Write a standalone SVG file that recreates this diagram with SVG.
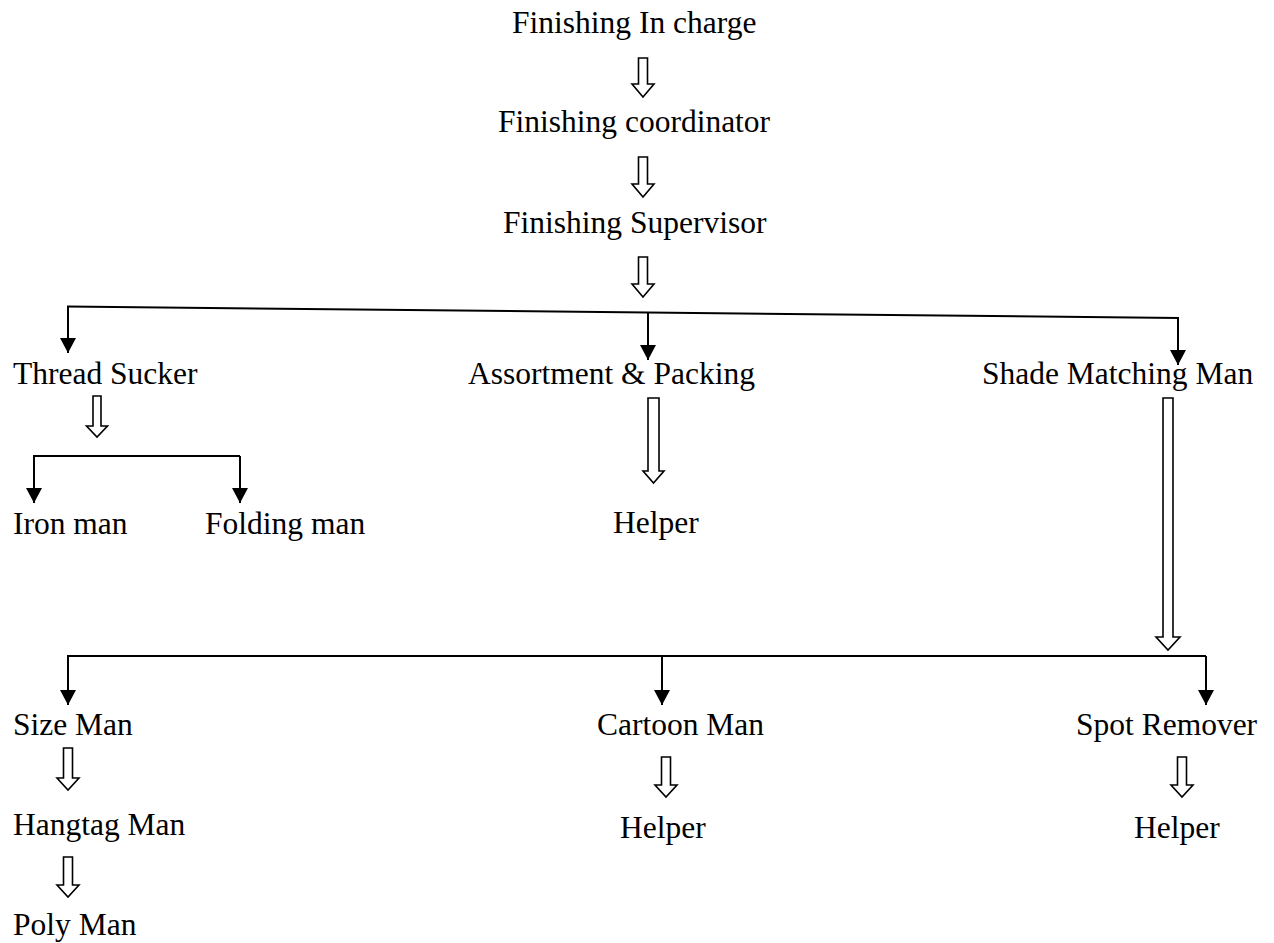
<svg xmlns="http://www.w3.org/2000/svg" width="1274" height="943" viewBox="0 0 1274 943">
<style>
text{font-family:"Liberation Serif","Times New Roman",serif;font-size:31.5px;fill:#000}
.ln{stroke:#000;stroke-width:2;fill:none}
.ho{stroke:#000;stroke-width:1.6;fill:#fff;stroke-linejoin:miter}
</style>
<defs>
<marker id="ah" markerUnits="userSpaceOnUse" markerWidth="16" markerHeight="16" refX="15" refY="8" orient="auto">
<path d="M0,0 L15,8 L0,16 Z" fill="#000"/>
</marker>
</defs>
<rect width="1274" height="943" fill="#fff"/>
<g id="n-incharge"><text x="512" y="33">Finishing In charge</text></g>
<g id="n-coordinator"><text x="498" y="132">Finishing coordinator</text></g>
<g id="n-supervisor"><text x="503" y="233">Finishing Supervisor</text></g>
<g id="n-thread"><text x="13" y="384">Thread Sucker</text></g>
<g id="n-assort"><text x="468" y="384">Assortment &amp; Packing</text></g>
<g id="n-shade"><text x="982" y="384">Shade Matching Man</text></g>
<g id="n-iron"><text x="13" y="534">Iron man</text></g>
<g id="n-folding"><text x="205" y="534">Folding man</text></g>
<g id="n-helper1"><text x="613" y="533">Helper</text></g>
<g id="n-size"><text x="13" y="735">Size Man</text></g>
<g id="n-cartoon"><text x="597" y="735">Cartoon Man</text></g>
<g id="n-spot"><text x="1076" y="735">Spot Remover</text></g>
<g id="n-hangtag"><text x="13" y="835">Hangtag Man</text></g>
<g id="n-helper2"><text x="620" y="838">Helper</text></g>
<g id="n-helper3"><text x="1134" y="838">Helper</text></g>
<g id="n-poly"><text x="13" y="935">Poly Man</text></g>
<g id="connectors">
<!-- hollow arrows -->
<path class="ho" d="M638.5,58 H647.5 V84 H654 L643,97 L632,84 H638.5 Z"/>
<path class="ho" d="M638.5,157 H647.5 V184 H654 L643,197 L632,184 H638.5 Z"/>
<path class="ho" d="M638.5,257 H647.5 V284 H654 L643,297 L632,284 H638.5 Z"/>
<path class="ho" d="M93,396 H101 V426 H107.5 L97,437 L86.5,426 H93 Z"/>
<path class="ho" d="M648,398 H659 V471 H664 L653.5,483 L643,471 H648 Z"/>
<path class="ho" d="M1163,398 H1173 V637 H1180 L1168,650 L1156,637 H1163 Z"/>
<path class="ho" d="M63.5,748 H72.5 V778 H79 L68,790 L57,778 H63.5 Z"/>
<path class="ho" d="M63.5,857 H72.5 V885 H79 L68,897 L57,885 H63.5 Z"/>
<path class="ho" d="M661.5,757 H670.5 V785 H677 L666,797 L655,785 H661.5 Z"/>
<path class="ho" d="M1177.5,757 H1186.5 V785 H1193 L1182,797 L1171,785 H1177.5 Z"/>
<!-- branch 1 -->
<line class="ln" x1="67" y1="306.5" x2="1179" y2="318" stroke-width="1.6"/>
<line class="ln" x1="68" y1="306" x2="68" y2="353" marker-end="url(#ah)"/>
<line class="ln" x1="648" y1="312" x2="648" y2="360" marker-end="url(#ah)"/>
<line class="ln" x1="1178" y1="318" x2="1178" y2="365" marker-end="url(#ah)"/>
<!-- thread sucker branch -->
<polyline class="ln" points="34,503 34,456 240,456" stroke-width="1.6" marker-end="none"/>
<line class="ln" x1="34" y1="456" x2="34" y2="503" marker-end="url(#ah)"/>
<line class="ln" x1="240" y1="456" x2="240" y2="503" marker-end="url(#ah)"/>
<!-- branch 2 -->
<line class="ln" x1="67" y1="656" x2="1206" y2="656" stroke-width="1.6"/>
<line class="ln" x1="68" y1="656" x2="68" y2="705" marker-end="url(#ah)"/>
<line class="ln" x1="662" y1="656" x2="662" y2="705" marker-end="url(#ah)"/>
<line class="ln" x1="1206" y1="656" x2="1206" y2="705" marker-end="url(#ah)"/>
</g>
</svg>
